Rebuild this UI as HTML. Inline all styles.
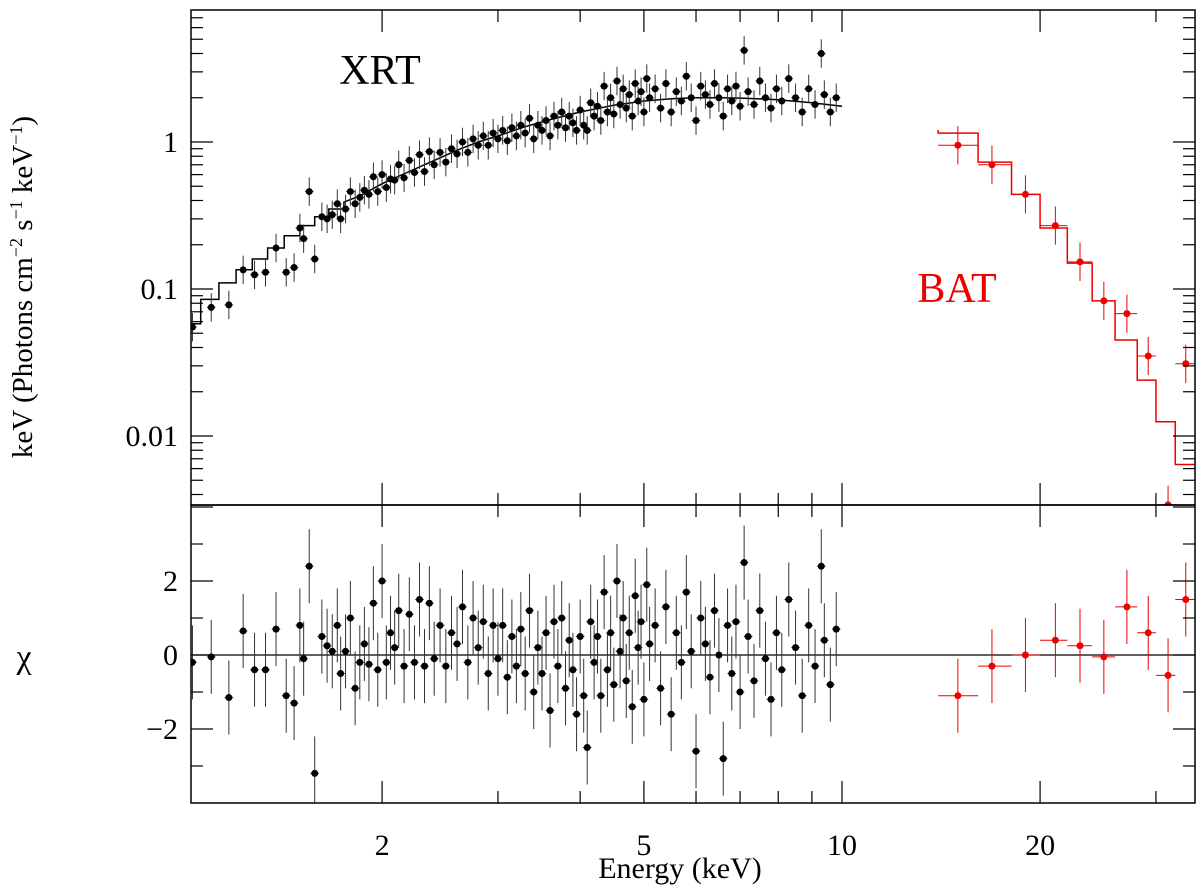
<!DOCTYPE html>
<html><head><meta charset="utf-8"><style>
html,body{margin:0;padding:0;background:#fff;}
svg{display:block;font-family:"Liberation Serif",serif;}
</style></head><body>
<svg id="chart" width="1200" height="888" viewBox="0 0 1200 888"></svg>
<script>
// ---- data ----
const xrtEnergy=[1.03,1.10,1.17,1.23,1.28,1.33,1.38,1.43,1.47,1.50,1.52,1.55,1.58,1.62,1.65,1.68,1.71,1.73,1.76,1.79,1.82,1.85,1.88,1.91,1.94,1.97,2.00,2.03,2.06,2.09,2.12,2.16,2.20,2.24,2.28,2.32,2.36,2.40,2.45,2.50,2.55,2.60,2.65,2.70,2.75,2.80,2.85,2.90,2.95,3.00,3.05,3.10,3.15,3.20,3.25,3.30,3.35,3.40,3.45,3.50,3.55,3.60,3.65,3.70,3.75,3.80,3.85,3.90,3.95,4.00,4.05,4.10,4.15,4.20,4.25,4.30,4.35,4.40,4.45,4.50,4.55,4.60,4.65,4.70,4.75,4.80,4.85,4.90,4.95,5.00,5.05,5.10,5.20,5.30,5.40,5.50,5.60,5.70,5.80,5.90,6.00,6.10,6.20,6.30,6.40,6.50,6.60,6.70,6.80,6.90,7.00,7.10,7.20,7.35,7.50,7.65,7.80,7.95,8.10,8.30,8.50,8.70,8.90,9.10,9.30,9.40,9.60,9.80];
const xrtFlux=[0.055,0.075,0.078,0.135,0.125,0.13,0.19,0.13,0.14,0.26,0.22,0.46,0.16,0.31,0.30,0.32,0.38,0.30,0.35,0.46,0.38,0.42,0.47,0.44,0.58,0.46,0.60,0.49,0.56,0.55,0.70,0.57,0.75,0.62,0.82,0.63,0.86,0.70,0.85,0.73,0.90,0.83,1.0,0.85,1.05,0.95,1.1,0.95,1.15,1.05,1.2,1.02,1.25,1.1,1.3,1.15,1.45,1.05,1.3,1.2,1.4,1.1,1.5,1.3,1.6,1.25,1.5,1.35,1.2,1.65,1.3,1.2,1.85,1.5,1.75,1.4,2.4,1.6,2.0,1.55,2.6,1.8,2.3,1.7,2.1,1.5,2.5,1.9,2.2,1.6,2.7,2.0,2.3,1.7,2.5,1.6,2.2,1.9,2.8,2.0,1.4,2.4,2.1,1.8,2.5,2.0,1.5,2.3,1.9,2.4,1.75,4.2,2.2,1.8,2.6,2.0,1.7,2.3,1.9,2.7,2.0,1.6,2.3,1.8,4.0,2.1,1.6,2.0];
const xrtChi=[-0.2,-0.05,-1.15,0.65,-0.4,-0.4,0.7,-1.1,-1.3,0.8,-0.1,2.4,-3.2,0.5,0.25,0.1,0.8,-0.5,0.1,1.0,-0.9,-0.2,0.3,-0.25,1.4,-0.4,2.0,-0.2,0.6,0.2,1.2,-0.3,1.1,-0.2,1.5,-0.3,1.4,-0.1,0.8,-0.3,0.6,0.3,1.3,-0.2,1.0,0.2,0.9,-0.5,0.8,-0.1,0.8,-0.6,0.5,-0.3,0.7,-0.5,1.2,-1.0,0.2,-0.5,0.6,-1.5,0.9,-0.3,1.0,-0.9,0.4,-0.4,-1.6,0.5,-1.1,-2.5,0.9,-0.2,0.5,-1.1,1.7,-0.4,0.6,-0.8,2.0,0.1,1.0,-0.7,0.6,-1.4,1.6,0.2,0.9,-1.2,1.9,0.3,0.8,-0.9,1.3,-1.6,0.6,-0.2,1.7,0.1,-2.6,1.0,0.3,-0.6,1.2,0,-2.8,0.8,-0.5,0.9,-1.0,2.5,0.5,-0.7,1.2,-0.1,-1.2,0.6,-0.4,1.5,0.2,-1.1,0.8,-0.3,2.4,0.4,-0.8,0.7];
const xrtModelE=[1.02,1.06,1.06,1.13,1.13,1.2,1.2,1.27,1.27,1.34,1.34,1.42,1.42,1.5,1.5,1.58,1.58,1.66,1.66,1.75,1.75,1.85,2.0,2.2,2.4,2.6,2.8,3.0,3.3,3.6,4.0,4.5,5.0,5.5,6.0,6.5,7.0,8.0,9.0,10.0];
const xrtModelF=[0.058,0.058,0.085,0.085,0.11,0.11,0.135,0.135,0.16,0.16,0.19,0.19,0.23,0.23,0.27,0.27,0.31,0.31,0.35,0.35,0.39,0.43,0.52,0.63,0.75,0.88,1.0,1.1,1.27,1.42,1.6,1.78,1.9,1.97,2.0,2.0,1.99,1.94,1.85,1.75];
const batEnergy=[15.0,16.9,19.0,21.1,23.0,25.0,27.1,29.2,31.3,33.3];
const batLo=[14.0,16.1,18.1,20.0,22.0,24.0,26.0,28.1,30.0,32.1];
const batHi=[16.1,18.1,20.0,22.0,24.0,26.0,28.1,30.0,32.1,34.4];
const batFlux=[0.95,0.70,0.44,0.27,0.153,0.083,0.068,0.035,0.0034,0.031];
const batChi=[-1.1,-0.3,0,0.4,0.25,-0.05,1.3,0.6,-0.55,1.5];
const batModel=[1.15,0.73,0.44,0.26,0.15,0.083,0.045,0.024,0.0125,0.0064];
const yTickVals=[0.01,0.1,1];
const yTickLabels=["0.01","0.1","1"];
const chiTickVals=[-2,0,2];
const chiTickLabels=["\u22122","0","2"];
const xTickVals=[2,5,10,20];
const xTickLabels=["2","5","10","20"];

// ---- layout ----
const L=191,R=1195,T=10,M=505,B=803;
const X=e=>842+658*Math.log10(e/10);
const Y=f=>142-147*Math.log10(f);
const C=c=>655-37*c;
const svg=document.getElementById('chart');
const NS='http://www.w3.org/2000/svg';
function mk(tag,attrs,parent){const el=document.createElementNS(NS,tag);for(const k in attrs)el.setAttribute(k,attrs[k]);(parent||svg).appendChild(el);return el;}

const defs=mk('defs',{});
const cp1=mk('clipPath',{id:'ctop'},defs);mk('rect',{x:L,y:T,width:R-L,height:M-T},cp1);
const cp2=mk('clipPath',{id:'cbot'},defs);mk('rect',{x:L,y:M,width:R-L,height:B-M},cp2);

const gTop=mk('g',{'clip-path':'url(#ctop)'});


const gBot=mk('g',{'clip-path':'url(#cbot)'});



const zl=mk('line',{x1:L,x2:R,y1:C(0),y2:C(0),stroke:'#000','stroke-width':1.3},gBot);



let pts=xrtModelE.map((e,i)=>X(e).toFixed(1)+','+Y(xrtModelF[i]).toFixed(1)).join(' ');
const xm=mk('polyline',{points:pts,fill:'none',stroke:'#000','stroke-width':1.5},gTop);



let bp=[];
batModel.forEach((v,i)=>{bp.push(X(batLo[i])+','+Y(v));bp.push(X(batHi[i])+','+Y(v));});
bp.unshift(X(batLo[0])+','+Y(batModel[0]*1.05));
const bm=mk('polyline',{points:bp.join(' '),fill:'none',stroke:'#e00','stroke-width':1.5},gTop);



xrtEnergy.forEach((e,i)=>{
  const x=X(e),y=Y(xrtFlux[i]);
  const g=mk('g',{},gTop);
  
  
  mk('line',{x1:x,x2:x,y1:Y(xrtFlux[i]*1.25),y2:Y(xrtFlux[i]/1.25),stroke:'#333','stroke-width':1},g);
  mk('line',{x1:X(e*0.985),x2:X(e*1.015),y1:y,y2:y,stroke:'#333','stroke-width':1},g);
  mk('circle',{cx:x,cy:y,r:3.5,fill:'#000'},g);
  const yc=C(xrtChi[i]);
  const g2=mk('g',{},gBot);
  
  
  mk('line',{x1:x,x2:x,y1:C(xrtChi[i]+1),y2:C(xrtChi[i]-1),stroke:'#333','stroke-width':1},g2);
  mk('line',{x1:X(e*0.985),x2:X(e*1.015),y1:yc,y2:yc,stroke:'#333','stroke-width':1},g2);
  mk('circle',{cx:x,cy:yc,r:3.5,fill:'#000'},g2);
});

batEnergy.forEach((e,i)=>{
  const x=X(e),y=Y(batFlux[i]);
  const g=mk('g',{},gTop);
  
  
  mk('line',{x1:x,x2:x,y1:Y(batFlux[i]*1.35),y2:Y(batFlux[i]/1.35),stroke:'#e00','stroke-width':1},g);
  mk('line',{x1:X(batLo[i]),x2:X(batHi[i]),y1:y,y2:y,stroke:'#e00','stroke-width':1},g);
  mk('circle',{cx:x,cy:y,r:3.5,fill:'#e00'},g);
  const yc=C(batChi[i]);
  const g2=mk('g',{},gBot);
  
  
  mk('line',{x1:x,x2:x,y1:C(batChi[i]+1),y2:C(batChi[i]-1),stroke:'#e00','stroke-width':1},g2);
  mk('line',{x1:X(batLo[i]),x2:X(batHi[i]),y1:yc,y2:yc,stroke:'#e00','stroke-width':1},g2);
  mk('circle',{cx:x,cy:yc,r:3.5,fill:'#e00'},g2);
});

[[T,M,'top-panel-frame'],[M,B,'residual-panel-frame']].forEach(([a,b,n])=>{
  const r=mk('rect',{x:L,y:a,width:R-L,height:b-a,fill:'none',stroke:'#000','stroke-width':1.5});
  
  
});

const tk=mk('g',{stroke:'#000','stroke-width':1.2});


for(let d=1;d<=30;d+=(d<10?1:10)){
  if(d<1.02)continue;
  const x=X(d);if(x<L||x>R)continue;
  const maj=xTickVals.indexOf(d)>=0;
  const len=maj?22:12;
  [T,M].forEach(yy=>mk('line',{x1:x,x2:x,y1:yy,y2:yy+len},tk));
  [M,B].forEach(yy=>mk('line',{x1:x,x2:x,y1:yy,y2:yy-len},tk));
}
for(let p=-3;p<=0;p++){for(let m=1;m<=9;m++){
  const v=m*Math.pow(10,p);const y=Y(v);if(y<T||y>M)continue;
  const len=m===1?22:12;
  mk('line',{x1:L,x2:L+len,y1:y,y2:y},tk);mk('line',{x1:R,x2:R-len,y1:y,y2:y},tk);
}}
for(let c=-4;c<=4;c++){const y=C(c);if(y<=M||y>=B)continue;const len=c%2===0?22:12;
  mk('line',{x1:L,x2:L+len,y1:y,y2:y},tk);mk('line',{x1:R,x2:R-len,y1:y,y2:y},tk);}

function txt(s,x,y,attrs,name){const t=mk('text',Object.assign({x:x,y:y,'font-size':30,fill:'#000'},attrs||{}));t.textContent=s;
  
  return t;}
yTickVals.forEach((v,i)=>txt(yTickLabels[i],178,Y(v)+10,{'text-anchor':'end'},'y-tick-label'));
chiTickVals.forEach((v,i)=>txt(chiTickLabels[i],178,C(v)+10,{'text-anchor':'end'},'chi-tick-label'));
xTickVals.forEach((v,i)=>txt(xTickLabels[i],X(v),855,{'text-anchor':'middle'},'x-tick-label'));
txt('Energy (keV)',680,878,{'text-anchor':'middle'},'x-axis-title');
txt('χ',24,668,{'text-anchor':'middle','font-size':34},'chi-axis-title');
const yt=mk('text',{x:0,y:0,'font-size':29,'text-anchor':'middle',transform:'translate(32,287) rotate(-90)'});


yt.innerHTML='keV (Photons cm<tspan dy="-10" font-size="18">−2</tspan><tspan dy="10"> s</tspan><tspan dy="-10" font-size="18">−1</tspan><tspan dy="10"> keV</tspan><tspan dy="-10" font-size="18">−1</tspan><tspan dy="10">)</tspan>';
txt('XRT',380,84,{'text-anchor':'middle','font-size':42},'xrt-label');
txt('BAT',957,302,{'text-anchor':'middle','font-size':42,fill:'#e00'},'bat-label');
</script>
</body></html>
